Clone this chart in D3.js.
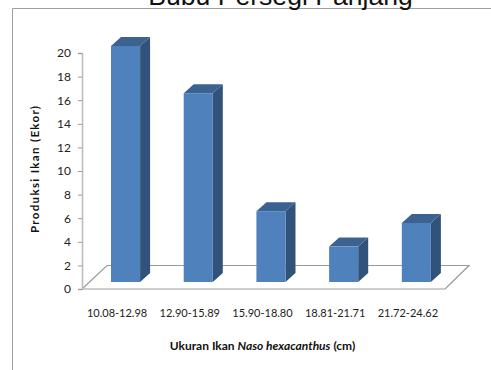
<!DOCTYPE html>
<html><head><meta charset="utf-8">
<script src="https://cdn.jsdelivr.net/npm/d3@7/dist/d3.min.js"></script>
<style>html,body{margin:0;padding:0;background:#fff;overflow:hidden}svg{display:block}</style>
</head><body><svg id="c" width="491" height="370"></svg>
<script>
const categories = ["10.08-12.98","12.90-15.89","15.90-18.80","18.81-21.71","21.72-24.62"];
const values = [20,16,6,3,5];
const yTicks = [0,2,4,6,8,10,12,14,16,18,20];
const titleText = "Bubu Persegi Panjang";
const yTitle = "Produksi Ikan (Ekor)";
const font = "Lato, Carlito, 'Open Sans', sans-serif";

const svg = d3.select("#c");
const y = d3.scaleLinear().domain([0,20]).range([289,53]);
const x = d3.scaleBand().domain(categories).range([89.2,452.7]).paddingInner(0.6).paddingOuter(0.3);
const depth = {dx:10, dy:-9};
const floorOff = {dx:25, dy:-23.5};
const baseDrop = y(0)-282; // bar feet sit forward of the axis baseline

// frame
svg.append("path").attr("d","M12.5,370V8.5H491").attr("fill","none").attr("stroke","#a0a0a0").attr("stroke-width",1);
svg.append("text").attr("x",280.5).attr("y",4.5).attr("text-anchor","middle")
  .attr("font-family","'Liberation Sans',Arial,sans-serif").attr("font-size",26.6).attr("fill","#111").text(titleText);

// floor
const fx0=82, fx1=445, fy=y(0);
svg.append("path").attr("d",`M${fx0},${fy}L${fx0+floorOff.dx},${fy+floorOff.dy}H${fx1+floorOff.dx-1}L${fx1},${fy}`)
  .attr("fill","none").attr("stroke","#9a9a9a").attr("stroke-width",1.2);
svg.append("line").attr("x1",fx0).attr("x2",fx1).attr("y1",fy).attr("y2",fy).attr("stroke","#bcbcbc").attr("stroke-width",1.6);

// y axis
const gy = svg.append("g").attr("transform","translate(82,0)")
  .call(d3.axisLeft(y).tickValues(yTicks).tickSize(4).tickPadding(7));
gy.select(".domain").attr("stroke","#bcbcbc").attr("stroke-width",1.6);
gy.selectAll(".tick line").attr("stroke","#9a9a9a");
gy.selectAll("text").attr("font-family",font).attr("font-size",12).attr("fill","#222");

// x labels
const gx = svg.append("g").attr("transform","translate(-8.5,309)")
  .call(d3.axisBottom(x).tickSize(0).tickPadding(0));
gx.select(".domain").remove();
gx.selectAll("text").attr("font-family",font).attr("font-size",11).attr("fill","#222");

// bars
const bars = svg.selectAll(".bar").data(categories.map((c,i)=>({c,v:values[i]}))).join("g").attr("class","bar");
const barTop = d=>y(d.v)-baseDrop, barBot=()=>y(0)-baseDrop;
bars.append("path").attr("fill","#31527a").attr("d",d=>{
  const r=x(d.c)+x.bandwidth();
  return `M${r},${barTop(d)}l${depth.dx},${depth.dy}V${barBot()+depth.dy}L${r},${barBot()}Z`;});
bars.append("path").attr("fill","#3c6291").attr("d",d=>{
  const l=x(d.c), r=l+x.bandwidth();
  return `M${l},${barTop(d)}l${depth.dx},${depth.dy}H${r+depth.dx}L${r},${barTop(d)}Z`;});
bars.append("rect").attr("x",d=>x(d.c)).attr("y",barTop).attr("width",x.bandwidth())
  .attr("height",d=>barBot()-barTop(d)).attr("fill","#4f81bd");

// axis titles
svg.append("text").attr("transform","translate(39,169.5) rotate(-90)").attr("text-anchor","middle")
  .attr("font-family",font).attr("font-size",11.5).attr("font-weight",700).attr("fill","#111")
  .attr("textLength",127).attr("lengthAdjust","spacing").text(yTitle);
const xt = svg.append("text").attr("x",262.5).attr("y",350).attr("text-anchor","middle")
  .attr("font-family",font).attr("font-size",12).attr("font-weight",700).attr("fill","#111");
xt.append("tspan").text("Ukuran Ikan ");
xt.append("tspan").attr("font-style","italic").text("Naso hexacanthus");
xt.append("tspan").text(" (cm)");
</script></body></html>
